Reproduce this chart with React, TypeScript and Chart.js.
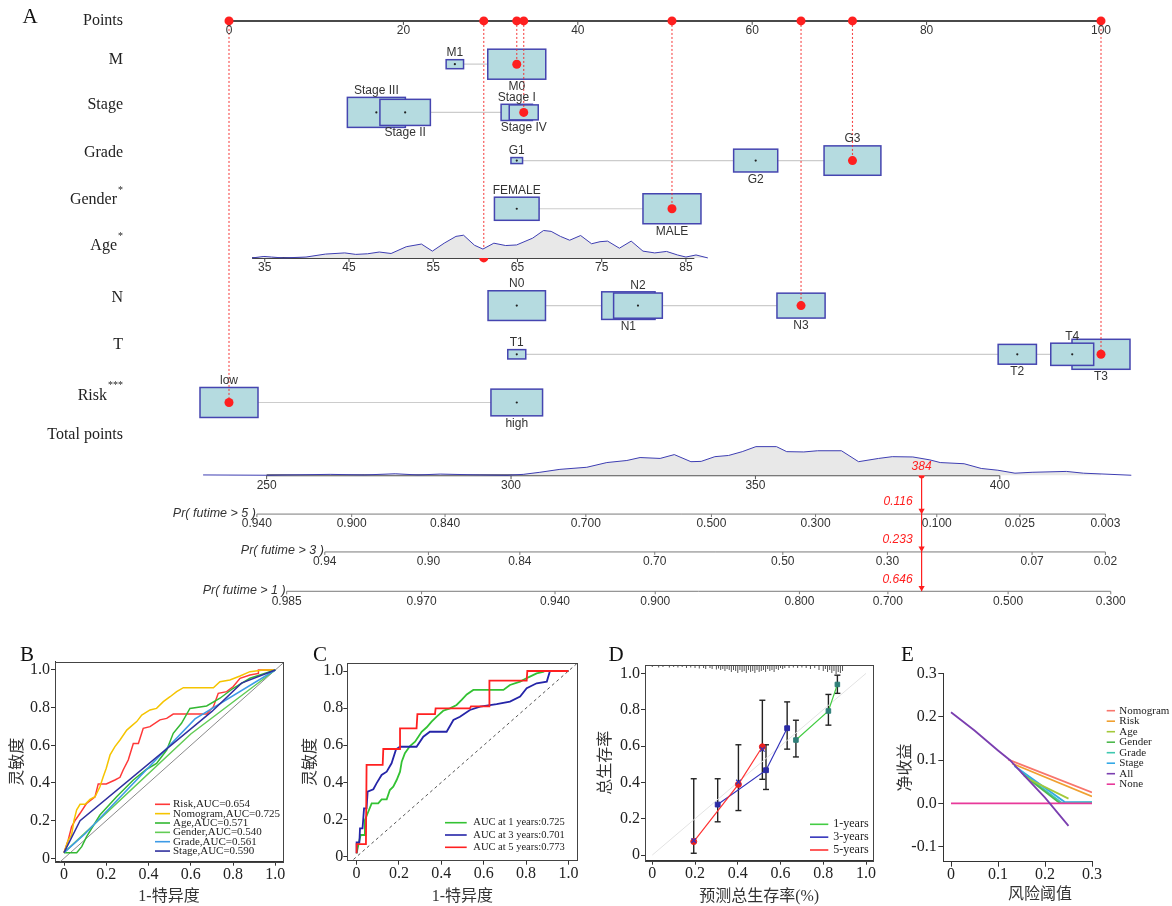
import React, { useEffect, useRef } from 'react';
import { Chart, registerables } from 'chart.js';

Chart.register(...registerables);

const SERIF = '"Liberation Serif", "Times New Roman", serif';
const SANS = '"Liberation Sans", Arial, Helvetica, sans-serif';
const CJK = '"Liberation Serif", "Noto Sans CJK SC", serif';

// ================= Panel A : nomogram data =================
const POINT_TICKS = [0, 20, 40, 60, 80, 100];
const ROW_NAMES = ['Points', 'M', 'Stage', 'Grade', 'Gender', 'Age', 'N', 'T', 'Risk', 'Total points'];
const ROW_MARKS = ['', '', '', '', '*', '*', '', '', '***', ''];

const M_LEVELS = ['M1', 'M0'];
const M_POINTS = [25.9, 33.0];
const M_FREQ = [0.3, 1.0];
const M_SEL = 'M0';

const STAGE_LEVELS = ['Stage III', 'Stage II', 'Stage I', 'Stage IV'];
const STAGE_POINTS = [16.9, 20.2, 33.0, 33.8];
const STAGE_FREQ = [1.0, 0.87, 0.54, 0.5];
const STAGE_SEL = 'Stage IV';

const GRADE_LEVELS = ['G1', 'G2', 'G3'];
const GRADE_POINTS = [33.0, 60.4, 71.5];
const GRADE_FREQ = [0.2, 0.76, 0.98];
const GRADE_SEL = 'G3';

const GENDER_LEVELS = ['FEMALE', 'MALE'];
const GENDER_POINTS = [33.0, 50.8];
const GENDER_FREQ = [0.77, 1.0];
const GENDER_SEL = 'MALE';

const N_LEVELS = ['N0', 'N1', 'N2', 'N3'];
const N_POINTS = [33.0, 45.8, 46.9, 65.6];
const N_FREQ = [0.99, 0.92, 0.84, 0.83];
const N_SEL = 'N3';

const T_LEVELS = ['T1', 'T2', 'T3', 'T4'];
const T_POINTS = [33.0, 90.4, 100, 96.7];
const T_FREQ = [0.31, 0.66, 1.0, 0.74];
const T_SEL = 'T3';

const RISK_LEVELS = ['low', 'high'];
const RISK_POINTS = [0, 33.0];
const RISK_FREQ = [1.0, 0.89];
const RISK_SEL = 'low';

const AGE_TICKS = [35, 45, 55, 65, 75, 85];
const AGE_TICK_PTS = [4.1, 13.8, 23.4, 33.1, 42.7, 52.4];
const AGE_RANGE = [33.5, 86];
const AGE_SEL = 61;
const AGE_DENS_AGE = [33.5, 34.9, 35.8, 37.2, 39.9, 42.2, 44.5, 45.8, 47.2, 48.6, 50.0, 51.8, 53.6, 54.9, 56.3, 57.7, 58.6, 59.9, 60.9, 62.2, 63.6, 64.9, 66.8, 68.1, 69.0, 70.1, 71.2, 72.5, 73.8, 74.8, 75.7, 77.1, 78.5, 79.9, 81.3, 82.7, 84.0, 85.0, 86.2, 87.6];
const AGE_DENS = [0, 0.05, 0.03, 0, 0.03, 0.13, 0.17, 0.12, 0.14, 0.2, 0.15, 0.38, 0.47, 0.23, 0.5, 0.73, 0.77, 0.43, 0.3, 0.5, 0.42, 0.44, 0.67, 0.93, 0.9, 0.73, 0.6, 0.76, 0.48, 0.55, 0.57, 0.33, 0.57, 0.23, 0.17, 0.22, 0.1, 0.03, 0.1, 0];

const TOTAL_TICKS = [250, 300, 350, 400];
const TOTAL_SCORE = 384;
const TOT_DENS_X = [237, 250, 263, 270, 276.3, 281, 285.5, 293.6, 299.2, 302.5, 305.9, 310, 315.5, 319.6, 323.7, 326.4, 330.5, 333.4, 336.8, 338.9, 341.7, 344.5, 347.3, 350.1, 354.3, 356.4, 359.9, 362.7, 367.6, 371.1, 375.2, 378, 382.2, 385.7, 387.8, 392.7, 396.2, 399.6, 403.1, 406.6, 413.6, 417.1, 426.9];
const TOT_DENS = [0.01, 0, 0.03, 0.01, 0.05, 0.01, 0.04, 0.01, 0, 0.03, 0.1, 0.2, 0.27, 0.43, 0.5, 0.6, 0.57, 0.7, 0.46, 0.47, 0.63, 0.67, 0.8, 0.97, 0.97, 0.8, 0.79, 0.83, 0.83, 0.46, 0.57, 0.63, 0.62, 0.52, 0.43, 0.39, 0.23, 0.17, 0.07, 0.1, 0.13, 0.07, 0];

const PR_TITLES = ['Pr( futime > 5 )', 'Pr( futime > 3 )', 'Pr( futime > 1 )'];
const PR5_LABELS = ['0.940', '0.900', '0.840', '0.700', '0.500', '0.300', '0.100', '0.025', '0.003'];
const PR5_AT = [248.0, 267.4, 286.5, 315.3, 341.0, 362.3, 387.1, 404.1, 421.6];
const PR3_LABELS = ['0.94', '0.90', '0.84', '0.70', '0.50', '0.30', '0.07', '0.02'];
const PR3_AT = [261.9, 283.1, 301.8, 329.4, 355.6, 377.0, 406.6, 421.6];
const PR1_LABELS = ['0.985', '0.970', '0.940', '0.900', '0.800', '0.700', '0.500', '0.300'];
const PR1_AT = [254.1, 281.7, 309.0, 329.5, 359.0, 377.1, 401.7, 422.7];
const PRED_PROBS = ['0.116', '0.233', '0.646'];

// ================= Panel B : ROC by variable =================
const B_NAMES = ['Risk', 'Nomogram', 'Age', 'Gender', 'Grade', 'Stage'];
const B_AUC = [0.654, 0.725, 0.571, 0.540, 0.561, 0.590];
const B_RISK_FPR = [0, 0.02, 0.036, 0.052, 0.076, 0.107, 0.147, 0.162, 0.2, 0.241, 0.265, 0.28, 0.304, 0.328, 0.352, 0.375, 0.407, 0.454, 0.486, 0.517, 0.675, 0.707, 0.73, 0.77, 0.801, 0.833, 0.88, 0.92, 0.92, 1];
const B_RISK_TPR = [0.03, 0.097, 0.168, 0.2, 0.239, 0.292, 0.327, 0.395, 0.395, 0.416, 0.43, 0.469, 0.522, 0.61, 0.61, 0.69, 0.699, 0.735, 0.743, 0.766, 0.766, 0.805, 0.876, 0.885, 0.912, 0.956, 0.973, 0.982, 1, 1];
const B_NOMO_FPR = [0, 0.02, 0.036, 0.047, 0.06, 0.076, 0.1, 0.123, 0.147, 0.17, 0.186, 0.2, 0.218, 0.241, 0.265, 0.297, 0.32, 0.344, 0.368, 0.407, 0.438, 0.47, 0.502, 0.533, 0.565, 0.707, 0.738, 0.785, 0.833, 0.88, 0.943, 1];
const B_NOMO_TPR = [0.03, 0.097, 0.124, 0.2, 0.257, 0.287, 0.287, 0.313, 0.327, 0.38, 0.434, 0.478, 0.549, 0.593, 0.628, 0.681, 0.703, 0.726, 0.761, 0.788, 0.796, 0.832, 0.858, 0.885, 0.906, 0.906, 0.938, 0.947, 0.968, 0.991, 1, 1];
const B_AGE_FPR = [0, 0.06, 0.084, 0.107, 0.17, 0.249, 0.328, 0.391, 0.438, 0.486, 0.517, 0.556, 0.596, 0.675, 0.738, 0.801, 0.88, 1];
const B_AGE_TPR = [0.03, 0.03, 0.062, 0.115, 0.23, 0.327, 0.416, 0.473, 0.504, 0.575, 0.664, 0.717, 0.796, 0.809, 0.85, 0.903, 0.956, 1];
const B_GENDER_FPR = [0, 0.6, 1];
const B_GENDER_TPR = [0.03, 0.66, 1];
const B_GRADE_FPR = [0, 0.1, 0.62, 1];
const B_GRADE_TPR = [0.03, 0.13, 0.74, 1];
const B_STAGE_FPR = [0, 0.076, 0.7, 0.84, 1];
const B_STAGE_TPR = [0.03, 0.2, 0.78, 0.93, 1];

// ================= Panel C : time-dependent ROC =================
const C_YEARS = [1, 3, 5];
const C_AUC = ['0.725', '0.701', '0.773'];
const C1_FPR = [0, 0.008, 0.019, 0.035, 0.039, 0.055, 0.071, 0.102, 0.118, 0.142, 0.157, 0.173, 0.189, 0.205, 0.213, 0.228, 0.252, 0.276, 0.307, 0.331, 0.354, 0.378, 0.409, 0.441, 0.472, 0.496, 0.52, 0.551, 0.693, 0.724, 0.772, 0.811, 0.85, 0.882, 0.882, 1];
const C1_TPR = [0.018, 0.063, 0.117, 0.117, 0.197, 0.242, 0.287, 0.287, 0.309, 0.309, 0.359, 0.377, 0.413, 0.458, 0.512, 0.557, 0.596, 0.619, 0.673, 0.697, 0.727, 0.754, 0.786, 0.799, 0.817, 0.844, 0.874, 0.898, 0.898, 0.925, 0.943, 0.966, 0.987, 0.996, 1, 1];
const C3_FPR = [0, 0, 0.013, 0.016, 0.028, 0.035, 0.047, 0.052, 0.079, 0.094, 0.118, 0.142, 0.165, 0.186, 0.205, 0.283, 0.315, 0.346, 0.425, 0.457, 0.488, 0.535, 0.583, 0.661, 0.724, 0.772, 0.803, 0.85, 0.898, 0.913, 1];
const C3_TPR = [0.018, 0.077, 0.077, 0.153, 0.153, 0.26, 0.26, 0.35, 0.363, 0.395, 0.44, 0.458, 0.503, 0.578, 0.592, 0.592, 0.646, 0.673, 0.673, 0.736, 0.754, 0.79, 0.808, 0.822, 0.835, 0.862, 0.907, 0.934, 0.943, 1, 1];
const C5_FPR = [0, 0, 0.044, 0.047, 0.123, 0.126, 0.205, 0.205, 0.283, 0.287, 0.37, 0.373, 0.535, 0.54, 0.627, 0.627, 0.803, 0.806, 1];
const C5_TPR = [0.018, 0.068, 0.068, 0.494, 0.494, 0.58, 0.58, 0.691, 0.691, 0.768, 0.768, 0.799, 0.799, 0.81, 0.81, 0.948, 0.948, 1, 1];

// ================= Panel D : calibration =================
const D_LABELS = ['1-years', '3-years', '5-years'];
const D1_X = [0.672, 0.824, 0.866];
const D1_Y = [0.633, 0.793, 0.939];
const D1_LO = [0.54, 0.715, 0.89];
const D1_HI = [0.742, 0.884, 0.99];
const D3_X = [0.306, 0.532, 0.631];
const D3_Y = [0.278, 0.467, 0.698];
const D3_LO = [0.183, 0.361, 0.583];
const D3_HI = [0.42, 0.607, 0.843];
const D5_X = [0.194, 0.403, 0.515];
const D5_Y = [0.074, 0.389, 0.596];
const D5_LO = [0.01, 0.245, 0.417];
const D5_HI = [0.42, 0.607, 0.852];
const D5_CORR = [0.08, 0.402, 0.582];
const RUG_X = [0, 0.03, 0.05, 0.08, 0.1, 0.12, 0.14, 0.16, 0.18, 0.2, 0.22, 0.24, 0.25, 0.27, 0.28, 0.3, 0.31, 0.32, 0.33, 0.34, 0.35, 0.36, 0.37, 0.38, 0.39, 0.4, 0.41, 0.42, 0.43, 0.44, 0.45, 0.46, 0.47, 0.48, 0.49, 0.5, 0.51, 0.52, 0.53, 0.54, 0.55, 0.56, 0.57, 0.58, 0.59, 0.6, 0.61, 0.62, 0.64, 0.66, 0.68, 0.7, 0.72, 0.74, 0.76, 0.78, 0.8, 0.81, 0.82, 0.83, 0.84, 0.85, 0.86, 0.87, 0.88, 0.89];
const RUG_N = [1, 1.5, 1, 1.5, 1, 1.5, 1, 2, 1.5, 2, 2.5, 2, 3, 2, 3, 3.5, 2.5, 4, 3, 5, 3, 4, 6, 4, 5, 7, 4, 6, 5, 7, 4, 6, 5, 7, 4, 6, 5, 4, 6, 3, 5, 4, 6, 3, 4, 2, 3, 2, 2, 1.5, 2, 1.5, 2, 3, 2, 4, 5, 3, 6, 4, 7, 5, 8, 6, 7, 5];

// ================= Panel E : decision curves =================
const E_NAMES = ['Nomogram', 'Risk', 'Age', 'Gender', 'Grade', 'Stage', 'All', 'None'];
const E_NOMO_X = [0.122, 0.3];
const E_NOMO_Y = [0.101, 0.025];
const E_RISK_X = [0.13, 0.3];
const E_RISK_Y = [0.092, 0.016];
const E_AGE_X = [0.16, 0.25];
const E_AGE_Y = [0.059, 0.011];
const E_GENDER_X = [0.155, 0.232];
const E_GENDER_Y = [0.065, 0.0];
const E_GRADE_X = [0.15, 0.236, 0.3];
const E_GRADE_Y = [0.071, 0.001, 0.002];
const E_STAGE_X = [0.135, 0.242, 0.3];
const E_STAGE_Y = [0.086, 0.003, 0.003];
const E_ALL_X = [0, 0.05, 0.1, 0.125, 0.15, 0.2, 0.25];
const E_ALL_Y = [0.21, 0.168, 0.122, 0.1, 0.071, 0.013, -0.052];
const E_NONE_X = [0, 0.3];
const E_NONE_Y = [0, 0];

const UNIT_TICKS = [0, 0.2, 0.4, 0.6, 0.8, 1.0];

// ================= layout constants (Panel A) =================
const A_W = 1172;
const A_H = 625;
const PTS_LEFT = 229;
const PTS_RIGHT = 1101;
const TOTAL_MIN = 242.3;
const TOTAL_MAX = 420.7;
const ROW_Y: any = { Points: 16, M: 60, Stage: 109, Grade: 158, Gender: 207, Age: 257, N: 305.5, T: 355, Risk: 404, Total: 478, Pr5: 517.5, Pr3: 556, Pr1: 596 };
const LABEL_Y = [16, 56, 101, 150, 198, 245, 298, 345, 397, 437];
const LABEL_RIGHT = 123;
const DENS_PX = 30;
const BOX_W = 58;
const BOX_H = 30;
const BOX_FILL = '#B5DBE0';
const BOX_EDGE = '#4545B0';
const RED = '#FF1F1F';

function hl(ctx: any, x1: number, x2: number, y: number, color: string, w: number) {
  ctx.strokeStyle = color; ctx.lineWidth = w; ctx.beginPath(); ctx.moveTo(x1, y); ctx.lineTo(x2, y); ctx.stroke();
}
function vl(ctx: any, x: number, y1: number, y2: number, color: string, w: number) {
  ctx.strokeStyle = color; ctx.lineWidth = w; ctx.beginPath(); ctx.moveTo(x, y1); ctx.lineTo(x, y2); ctx.stroke();
}
function tx(ctx: any, s: string, x: number, y: number, font: string, color: string, align = 'center', base = 'middle') {
  ctx.font = font; ctx.fillStyle = color; ctx.textAlign = align; ctx.textBaseline = base; ctx.fillText(s, x, y);
}

function buildNomogram(canvas: HTMLCanvasElement) {
  const vars = [
    { row: 'M', levels: M_LEVELS, points: M_POINTS, freq: M_FREQ, sel: M_SEL },
    { row: 'Stage', levels: STAGE_LEVELS, points: STAGE_POINTS, freq: STAGE_FREQ, sel: STAGE_SEL },
    { row: 'Grade', levels: GRADE_LEVELS, points: GRADE_POINTS, freq: GRADE_FREQ, sel: GRADE_SEL },
    { row: 'Gender', levels: GENDER_LEVELS, points: GENDER_POINTS, freq: GENDER_FREQ, sel: GENDER_SEL },
    { row: 'N', levels: N_LEVELS, points: N_POINTS, freq: N_FREQ, sel: N_SEL },
    { row: 'T', levels: T_LEVELS, points: T_POINTS, freq: T_FREQ, sel: T_SEL },
    { row: 'Risk', levels: RISK_LEVELS, points: RISK_POINTS, freq: RISK_FREQ, sel: RISK_SEL },
  ];
  const la = AGE_TICKS.length - 1;
  const ageToPts = (a: number) => AGE_TICK_PTS[0] + (a - AGE_TICKS[0]) * (AGE_TICK_PTS[la] - AGE_TICK_PTS[0]) / (AGE_TICKS[la] - AGE_TICKS[0]);
  const picks = [
    ...vars.map((v) => ({ row: v.row, p: v.points[v.levels.indexOf(v.sel)] })),
    { row: 'Age', p: ageToPts(AGE_SEL) },
  ];
  const prRows = [ROW_Y.Pr5, ROW_Y.Pr3, ROW_Y.Pr1];
  const prLabels = [PR5_LABELS, PR3_LABELS, PR1_LABELS];
  const prAt = [PR5_AT, PR3_AT, PR1_AT];

  const dens = { showLine: true, backgroundColor: '#E8E8E8', borderColor: '#3D3DB2', borderWidth: 1, pointRadius: 0, clip: false, tension: 0 };
  const datasets: any[] = [];
  datasets.push({ ...dens, xAxisID: 'x', fill: { value: ROW_Y.Age }, data: AGE_DENS_AGE.map((a, i) => ({ x: ageToPts(a), y: ROW_Y.Age - AGE_DENS[i] * DENS_PX })) });
  datasets.push({ ...dens, xAxisID: 'x2', fill: { value: ROW_Y.Total }, data: TOT_DENS_X.map((t, i) => ({ x: t, y: ROW_Y.Total - TOT_DENS[i] * DENS_PX })) });
  picks.forEach((pk) => {
    datasets.push({ xAxisID: 'x', data: [{ x: pk.p, y: ROW_Y.Points }, { x: pk.p, y: ROW_Y[pk.row] }], showLine: true, borderColor: 'rgba(245,40,40,0.85)', borderWidth: 1.1, borderDash: [2, 2], pointRadius: 0, clip: false, fill: false });
  });
  datasets.push({ xAxisID: 'x', showLine: false, fill: false, clip: false, pointRadius: 4.5, pointBackgroundColor: RED, pointBorderColor: RED, pointBorderWidth: 0,
    data: picks.flatMap((pk) => [{ x: pk.p, y: ROW_Y.Points }, { x: pk.p, y: ROW_Y[pk.row] }]) });
  datasets.push({ xAxisID: 'x2', showLine: true, fill: false, clip: false, borderColor: RED, borderWidth: 1.2, pointRadius: [2.5, 0], pointBackgroundColor: RED, pointBorderColor: RED,
    data: [{ x: TOTAL_SCORE, y: ROW_Y.Total }, { x: TOTAL_SCORE, y: ROW_Y.Pr1 }] });
  datasets.push({ xAxisID: 'x2', showLine: false, fill: false, clip: false, pointStyle: 'triangle', pointRotation: 180, pointRadius: 3.6, pointBackgroundColor: RED, pointBorderColor: RED, pointBorderWidth: 0,
    data: prRows.map((y) => ({ x: TOTAL_SCORE, y: y - 3.6 })) });

  const plugin = {
    id: 'nomo',
    beforeDatasetsDraw(chart: any) {
      const ctx = chart.ctx;
      const X = (v: number) => chart.scales.x.getPixelForValue(v);
      const X2 = (v: number) => chart.scales.x2.getPixelForValue(v);
      const Y = (v: number) => chart.scales.y.getPixelForValue(v);
      ctx.save();
      const py = Y(ROW_Y.Points);
      hl(ctx, X(POINT_TICKS[0]), X(POINT_TICKS[POINT_TICKS.length - 1]), py, '#4A4A4A', 2);
      POINT_TICKS.forEach((t) => vl(ctx, X(t), py, py + 4, '#4A4A4A', 1));
      vars.forEach((v) => {
        const y = Y(ROW_Y[v.row]);
        const xs = v.points.map(X);
        hl(ctx, Math.min(...xs), Math.max(...xs), y, '#CCCCCC', 1.2);
        v.levels.forEach((lv, i) => {
          const w = BOX_W * v.freq[i];
          const h = BOX_H * v.freq[i];
          ctx.fillStyle = BOX_FILL;
          ctx.fillRect(xs[i] - w / 2, y - h / 2, w, h);
          ctx.strokeStyle = BOX_EDGE; ctx.lineWidth = 1.5;
          ctx.strokeRect(xs[i] - w / 2, y - h / 2, w, h);
          ctx.fillStyle = '#222';
          ctx.beginPath(); ctx.arc(xs[i], y, 1.1, 0, Math.PI * 2); ctx.fill();
        });
      });
      const ay = Y(ROW_Y.Age);
      hl(ctx, X(ageToPts(AGE_RANGE[0])), X(ageToPts(AGE_RANGE[1])), ay, '#444', 2);
      AGE_TICKS.forEach((a) => vl(ctx, X(ageToPts(a)), ay, ay + 4, '#444', 1));
      const ty = Y(ROW_Y.Total);
      hl(ctx, X2(TOTAL_TICKS[0]), X2(TOTAL_TICKS[TOTAL_TICKS.length - 1]), ty, '#555', 2);
      TOTAL_TICKS.forEach((t) => vl(ctx, X2(t), ty, ty + 4, '#555', 1));
      prRows.forEach((r, k) => {
        const y = Y(r);
        const at = prAt[k];
        hl(ctx, X2(at[0]), X2(at[at.length - 1]), y, '#7A7A7A', 1);
        at.forEach((t) => vl(ctx, X2(t), y, y + 3, '#7A7A7A', 1));
      });
      ctx.restore();
    },
    afterDatasetsDraw(chart: any) {
      const ctx = chart.ctx;
      const X = (v: number) => chart.scales.x.getPixelForValue(v);
      const X2 = (v: number) => chart.scales.x2.getPixelForValue(v);
      const Y = (v: number) => chart.scales.y.getPixelForValue(v);
      ctx.save();
      tx(ctx, 'A', 30, 17, `21px ${SERIF}`, '#111');
      ROW_NAMES.forEach((name, i) => {
        const y = Y(LABEL_Y[i]);
        let right = LABEL_RIGHT;
        if (ROW_MARKS[i]) {
          ctx.font = `10px ${SERIF}`;
          const w = ctx.measureText(ROW_MARKS[i]).width;
          tx(ctx, ROW_MARKS[i], LABEL_RIGHT, y - 10, `10px ${SERIF}`, '#222', 'right');
          right = LABEL_RIGHT - w - 1;
        }
        tx(ctx, name, right, y, `16px ${SERIF}`, '#222', 'right');
      });
      const f12 = `12px ${SANS}`;
      POINT_TICKS.forEach((t) => tx(ctx, String(t), X(t), Y(ROW_Y.Points) + 10, f12, '#333'));
      vars.forEach((v) => {
        const y = Y(ROW_Y[v.row]);
        const order = v.points.map((p, i) => i).sort((a, b) => v.points[a] - v.points[b]);
        order.forEach((i, k) => {
          const h = BOX_H * v.freq[i];
          const ly = k % 2 === 0 ? y - h / 2 - 7 : y + h / 2 + 7.5;
          tx(ctx, v.levels[i], X(v.points[i]), ly, f12, '#333');
        });
      });
      AGE_TICKS.forEach((a) => tx(ctx, String(a), X(ageToPts(a)), Y(ROW_Y.Age) + 10, f12, '#333'));
      TOTAL_TICKS.forEach((t) => tx(ctx, String(t), X2(t), Y(ROW_Y.Total) + 10, f12, '#333'));
      prRows.forEach((r, k) => {
        const y = Y(r);
        const at = prAt[k];
        tx(ctx, PR_TITLES[k], X2(at[0]) - 1, y - 1, `italic 12.5px ${SANS}`, '#333', 'right');
        at.forEach((t, j) => tx(ctx, prLabels[k][j], X2(t), y + 10, f12, '#333'));
        tx(ctx, PRED_PROBS[k], X2(TOTAL_SCORE) - 9, y - 12, `italic 12px ${SANS}`, RED, 'right');
      });
      tx(ctx, String(TOTAL_SCORE), X2(TOTAL_SCORE), Y(ROW_Y.Total) - 8.5, `italic 12px ${SANS}`, RED);
      ctx.restore();
    },
  };

  return new Chart(canvas, {
    type: 'line',
    data: { datasets },
    options: {
      responsive: false,
      animation: false,
      events: [],
      layout: { padding: { left: PTS_LEFT, right: A_W - PTS_RIGHT, top: 0, bottom: 0 } },
      scales: {
        x: { type: 'linear', position: 'bottom', display: false, min: 0, max: 100 },
        x2: { type: 'linear', position: 'bottom', display: false, min: TOTAL_MIN, max: TOTAL_MAX },
        y: { type: 'linear', display: false, min: 0, max: A_H, reverse: true },
      },
      plugins: { legend: { display: false }, tooltip: { enabled: false } },
    },
    plugins: [plugin],
  } as any);
}

// ================= generic small panel =================
function buildPanel(canvas: HTMLCanvasElement, P: any) {
  const datasets = P.series.map((s: any, i: number) => ({
    data: s.x.map((v: number, j: number) => ({ x: v, y: s.y[j] })),
    showLine: s.showLine !== false,
    borderColor: s.color,
    backgroundColor: s.color,
    borderWidth: s.width ?? 1.5,
    borderDash: s.dash ?? [],
    pointRadius: s.pointRadius ?? 0,
    pointStyle: s.pointStyle ?? 'circle',
    pointBackgroundColor: s.pointColor ?? s.color,
    pointBorderColor: s.pointBorder ?? s.pointColor ?? s.color,
    pointBorderWidth: s.pointBorderWidth ?? 1,
    order: s.order ?? i + 1,
    fill: false,
    tension: 0,
  }));
  const tickFont = { family: SERIF, size: 16 };
  const deco = {
    id: 'deco',
    beforeDatasetsDraw(chart: any) {
      if (P.before) { chart.ctx.save(); P.before(chart); chart.ctx.restore(); }
    },
    afterDraw(chart: any) {
      const ctx = chart.ctx;
      const a = chart.chartArea;
      ctx.save();
      if (P.frame) {
        ctx.strokeStyle = '#444'; ctx.lineWidth = 1;
        ctx.strokeRect(Math.round(a.left) + 0.5, Math.round(a.top) + 0.5, Math.round(a.right - a.left), Math.round(a.bottom - a.top));
      }
      tx(ctx, P.letter, P.letterX, 15, `21px ${SERIF}`, '#111');
      const L = P.legend;
      L.items.forEach((it: any, i: number) => {
        const y = L.y + i * L.step;
        hl(ctx, L.x0, L.x1, y, it.color, 1.6);
        tx(ctx, it.label, L.tx, y, `${L.size}px ${SERIF}`, '#222', 'left');
      });
      if (P.after) P.after(chart);
      ctx.restore();
    },
  };
  return new Chart(canvas, {
    type: 'line',
    data: { datasets },
    options: {
      responsive: false,
      animation: false,
      events: [],
      layout: { padding: { top: P.padTop, right: P.padRight, left: 0, bottom: 0 } },
      plugins: { legend: { display: false }, tooltip: { enabled: false } },
      scales: {
        x: {
          type: 'linear', position: 'bottom', min: P.xMin, max: P.xMax,
          afterBuildTicks: (s: any) => { s.ticks = P.xTicks.map((v: number) => ({ value: v })); },
          afterFit: (s: any) => { s.height = P.xH; },
          ticks: { font: tickFont, color: '#222', padding: P.xPad, maxRotation: 0, autoSkip: false, callback: (v: any) => P.xFmt(Number(v)) },
          grid: { drawOnChartArea: false, drawTicks: true, tickLength: P.tickLen, color: '#333', lineWidth: 1 },
          border: { display: true, color: '#333', width: 1 },
          title: P.xTitle ? { display: true, text: P.xTitle, font: { family: CJK, size: 16 }, color: '#333', padding: { top: 0, bottom: 0 } } : { display: false },
        },
        y: {
          type: 'linear', position: 'left', min: P.yMin, max: P.yMax,
          afterBuildTicks: (s: any) => { s.ticks = P.yTicks.map((v: number) => ({ value: v })); },
          afterFit: (s: any) => { s.width = P.yW; },
          ticks: { font: tickFont, color: '#222', padding: P.yPad, autoSkip: false, callback: (v: any) => P.yFmt(Number(v)) },
          grid: { drawOnChartArea: false, drawTicks: true, tickLength: P.tickLen, color: '#333', lineWidth: 1 },
          border: { display: true, color: '#333', width: 1 },
          title: { display: true, text: P.yTitle, font: { family: CJK, size: 16 }, color: '#333', padding: { top: P.yTitlePad, bottom: 0 } },
        },
      },
    },
    plugins: [deco],
  } as any);
}

const fmtUnit = (v: number) => (Math.abs(v) < 1e-9 ? '0' : v.toFixed(1));

function buildB(canvas: HTMLCanvasElement) {
  const colors = ['#FF3838', '#F5C400', '#33B833', '#62CC55', '#3D9BE6', '#30309E'];
  const fpr = [B_RISK_FPR, B_NOMO_FPR, B_AGE_FPR, B_GENDER_FPR, B_GRADE_FPR, B_STAGE_FPR];
  const tpr = [B_RISK_TPR, B_NOMO_TPR, B_AGE_TPR, B_GENDER_TPR, B_GRADE_TPR, B_STAGE_TPR];
  const series: any[] = [{ x: [-0.1, 1.1], y: [-0.1, 1.1], color: '#8A8A8A', width: 1, order: 20 }];
  B_NAMES.forEach((n, i) => series.push({ x: fpr[i], y: tpr[i], color: colors[i], width: 1.5, order: 10 - i }));
  return buildPanel(canvas, {
    series, padTop: 21.7, padRight: 7, yW: 55, xH: 44.3,
    xMin: -0.0426, xMax: 1.0364, yMin: -0.018, yMax: 1.044,
    xTicks: UNIT_TICKS, yTicks: UNIT_TICKS, xFmt: fmtUnit, yFmt: fmtUnit,
    tickLen: 4, xPad: -1, yPad: 1,
    yTitle: '灵敏度', yTitlePad: 8, xTitle: '1-特异度', frame: true,
    letter: 'B', letterX: 27,
    legend: { x0: 155, x1: 170, tx: 173, y: 164.3, step: 9.35, size: 11,
      items: B_NAMES.map((n, i) => ({ label: `${n},AUC=${B_AUC[i].toFixed(3)}`, color: colors[i] })) },
  });
}

function buildC(canvas: HTMLCanvasElement) {
  const colors = ['#33C233', '#2525A8', '#FF2020'];
  const fpr = [C1_FPR, C3_FPR, C5_FPR];
  const tpr = [C1_TPR, C3_TPR, C5_TPR];
  const series: any[] = [{ x: [-0.1, 1.1], y: [-0.1, 1.1], color: '#555', width: 1, dash: [3, 3], order: 20 }];
  C_YEARS.forEach((yr, i) => series.push({ x: fpr[i], y: tpr[i], color: colors[i], width: 1.8, order: 10 - i }));
  return buildPanel(canvas, {
    series, padTop: 23.3, padRight: 2.7, yW: 57.3, xH: 45.3,
    xMin: -0.044, xMax: 1.042, yMin: -0.0215, yMax: 1.0415,
    xTicks: UNIT_TICKS, yTicks: UNIT_TICKS, xFmt: fmtUnit, yFmt: fmtUnit,
    tickLen: 4, xPad: -1, yPad: 0,
    yTitle: '灵敏度', yTitlePad: 11, xTitle: '1-特异度', frame: true,
    letter: 'C', letterX: 30,
    legend: { x0: 155, x1: 176.7, tx: 183.3, y: 182.7, step: 12.3, size: 10.5,
      items: C_YEARS.map((yr, i) => ({ label: `AUC at ${yr} years:${C_AUC[i]}`, color: colors[i] })) },
  });
}

function buildD(canvas: HTMLCanvasElement) {
  const colors = ['#44CC44', '#3333BB', '#FF3333'];
  const xs = [D1_X, D3_X, D5_X];
  const ys = [D1_Y, D3_Y, D5_Y];
  const lo = [D1_LO, D3_LO, D5_LO];
  const hi = [D1_HI, D3_HI, D5_HI];
  const styles = [
    { pointStyle: 'rect', pointRadius: 3.2, pointColor: '#2F7F78' },
    { pointStyle: 'rect', pointRadius: 3.4, pointColor: '#2B2BA6' },
    { pointStyle: 'circle', pointRadius: 3, pointColor: '#E82020' },
  ];
  const series: any[] = [{ x: [0, 1], y: [0, 1], color: '#E3E3E3', width: 1, order: 20 }];
  D_LABELS.forEach((l, i) => series.push({ x: xs[i], y: ys[i], color: colors[i], width: 1.2, order: 10 - i, ...styles[i] }));
  series.push({ x: D5_X, y: D5_CORR, color: '#3333BB', showLine: false, pointStyle: 'crossRot', pointRadius: 3.2, pointBorderWidth: 1.2, order: 1 });
  return buildPanel(canvas, {
    series, padTop: 25, padRight: 6.7, yW: 55, xH: 45.3,
    xMin: -0.034, xMax: 1.034, yMin: -0.031, yMax: 1.046,
    xTicks: UNIT_TICKS, yTicks: UNIT_TICKS, xFmt: fmtUnit, yFmt: fmtUnit,
    tickLen: 4, xPad: -1, yPad: 1,
    yTitle: '总生存率', yTitlePad: 6, xTitle: '预测总生存率(%)', frame: true,
    letter: 'D', letterX: 26,
    legend: { x0: 220, x1: 238.3, tx: 243.3, y: 184.3, step: 12.85, size: 12,
      items: D_LABELS.map((l, i) => ({ label: l, color: colors[i] })) },
    before: (chart: any) => {
      const ctx = chart.ctx;
      const X = (v: number) => chart.scales.x.getPixelForValue(v);
      const Y = (v: number) => chart.scales.y.getPixelForValue(v);
      const top = chart.chartArea.top;
      RUG_X.forEach((v, i) => vl(ctx, X(v), top, top + 1 + RUG_N[i], '#555', 1));
      xs.forEach((arr, k) => arr.forEach((v, j) => {
        const x = X(v);
        vl(ctx, x, Y(lo[k][j]), Y(hi[k][j]), '#222', 1.4);
        hl(ctx, x - 3, x + 3, Y(lo[k][j]), '#222', 1.4);
        hl(ctx, x - 3, x + 3, Y(hi[k][j]), '#222', 1.4);
      }));
    },
  });
}

function buildE(canvas: HTMLCanvasElement) {
  const colors = ['#F8766D', '#F0A030', '#A3C93A', '#4DB84D', '#3FC8B0', '#35A9E6', '#7B3FB0', '#E8399A'];
  const xs = [E_NOMO_X, E_RISK_X, E_AGE_X, E_GENDER_X, E_GRADE_X, E_STAGE_X, E_ALL_X, E_NONE_X];
  const ys = [E_NOMO_Y, E_RISK_Y, E_AGE_Y, E_GENDER_Y, E_GRADE_Y, E_STAGE_Y, E_ALL_Y, E_NONE_Y];
  const series = E_NAMES.map((n, i) => ({ x: xs[i], y: ys[i], color: colors[i], width: 1.8, order: n === 'All' ? 0 : n === 'None' ? 1 : 2 + i }));
  return buildPanel(canvas, {
    series, padTop: 33.3, padRight: 80, yW: 63.3, xH: 44.3,
    xMin: -0.0164, xMax: 0.3, yMin: -0.1346, yMax: 0.3,
    xTicks: [0, 0.1, 0.2, 0.3], yTicks: [-0.1, 0, 0.1, 0.2, 0.3],
    xFmt: fmtUnit, yFmt: (v: number) => (Math.abs(v) < 1e-9 ? '0.0' : v.toFixed(1)),
    tickLen: 5, xPad: -2, yPad: 1.6,
    yTitle: '净收益', yTitlePad: 16, xTitle: null, frame: false,
    letter: 'E', letterX: 27.5,
    legend: { x0: 226.7, x1: 235, tx: 239.3, y: 70.7, step: 10.5, size: 11,
      items: E_NAMES.map((n, i) => ({ label: n, color: colors[i] })) },
    after: (chart: any) => {
      tx(chart.ctx, '风险阈值', 160, 255, `16px ${CJK}`, '#333');
    },
  });
}

export default function App() {
  const refA = useRef<HTMLCanvasElement>(null);
  const refB = useRef<HTMLCanvasElement>(null);
  const refC = useRef<HTMLCanvasElement>(null);
  const refD = useRef<HTMLCanvasElement>(null);
  const refE = useRef<HTMLCanvasElement>(null);

  useEffect(() => {
    const charts: Chart[] = [];
    if (refA.current) charts.push(buildNomogram(refA.current));
    if (refB.current) charts.push(buildB(refB.current));
    if (refC.current) charts.push(buildC(refC.current));
    if (refD.current) charts.push(buildD(refD.current));
    if (refE.current) charts.push(buildE(refE.current));
    return () => charts.forEach((c) => c.destroy());
  }, []);

  const abs = (left: number, top: number): any => ({ position: 'absolute', left, top });
  return (
    <div style={{ position: 'fixed', left: 0, top: 0, width: 1172, height: 906, background: '#fff', overflow: 'hidden' }}>
      <canvas ref={refA} width={1172} height={625} style={abs(0, 0)} />
      <canvas ref={refB} width={290} height={266} style={abs(0, 640)} />
      <canvas ref={refC} width={290} height={266} style={abs(290, 640)} />
      <canvas ref={refD} width={290} height={266} style={abs(590, 640)} />
      <canvas ref={refE} width={292} height={266} style={abs(880, 640)} />
    </div>
  );
}
